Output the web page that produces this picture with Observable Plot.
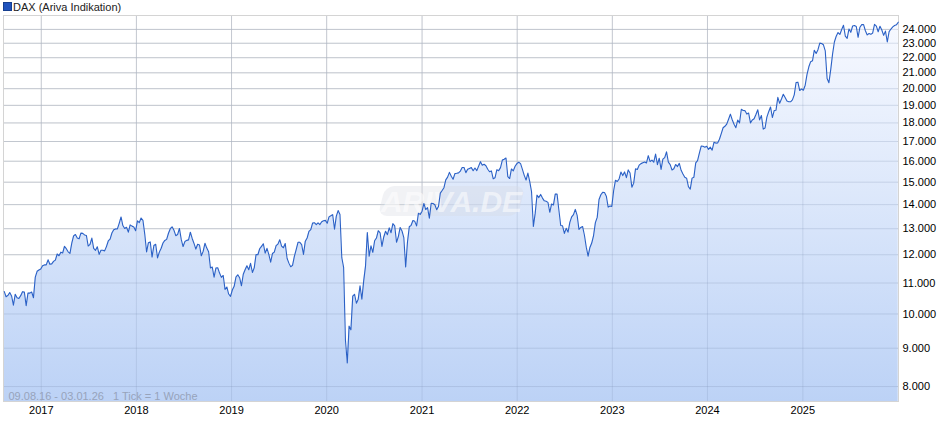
<!DOCTYPE html>
<html><head><meta charset="utf-8">
<script src="https://cdn.jsdelivr.net/npm/d3@7"></script>
<script src="https://cdn.jsdelivr.net/npm/@observablehq/plot@0.6"></script>
<style>
body{margin:0;background:#fff;font-family:"Liberation Sans",Arial,sans-serif;}
#title{height:14px;position:relative;font-size:11px;color:#222;line-height:14px;}
#title .sw{position:absolute;left:3px;top:2px;width:7px;height:7px;background:#1f52bd;border:1px solid #163f8f;}
#title .tx{position:absolute;left:13px;top:0px;}
#chart svg{display:block;overflow:visible;}
</style></head><body>
<div id="title"><span class="sw"></span><span class="tx">DAX (Ariva Indikation)</span></div>
<div id="chart"></div>
<script>
// Weekly closes (one tick = one week), first week ending 2016-08-12
const firstWeek = "2016-08-12";
const v2016 = [10713,10544,10588,10684,10573,10276,10627,10511,10490,10580,10711,10696,10259,10668,10664,10700,10513,11203,11404,11450,11481];
const v2017 = [11599,11630,11630,11814,11651,11666,11757,11804,12027,11963,12095,12064,12313,12225,12109,12049,12438,12717,12770,12638,12602,12823,12815,12753,12733,12325,12389,12631,12240,12163,12297,12014,12165,12168,12143,12304,12519,12592,12829,12956,12992,12991,13217,13479,13127,13007,13060,12862,13153,13104,13073,12918];
const v2018 = [13320,13245,13434,13340,12785,12107,12452,12483,11914,12346,12390,11886,12097,12241,12442,12540,12580,12820,13001,13077,12938,12724,12767,13011,12580,12306,12496,12541,12561,12860,12616,12424,12211,12394,12364,11960,12124,12431,12247,12111,11524,11554,11201,11519,11529,11342,11193,11257,10788,10866,10634,10559];
const v2019 = [10767,10887,11205,11282,11180,10907,11300,11458,11602,11458,11686,11364,11526,12010,12000,12222,12315,12412,12060,12239,12011,11727,12045,12096,12340,12399,12568,12323,12260,12419,11872,11694,11563,11612,11939,12191,12469,12468,12381,12013,12512,12634,12895,12961,13229,13242,13164,13236,13167,13283,13319,13337];
const v2020 = [13219,13483,13526,13577,12982,13514,13745,13579,11890,11542,9232,8600,9633,9525,10565,10626,10336,10467,10904,10465,11074,11587,12848,11949,12331,12089,12528,12633,12920,12839,12313,12674,12901,12765,13033,12842,13203,13116,12469,12689,13051,12909,12646,11556,12480,13077,13137,13335,13298,13114,13631,13587,13719];
const v2021 = [14050,13788,13873,13432,14057,14050,13993,13786,13920,14502,14621,14749,15107,15234,15460,15280,15136,15400,15417,15437,15520,15693,15693,15448,15608,15650,15688,15540,15669,15544,15761,15977,15808,15852,15781,15609,15490,15531,15156,15207,15587,15543,15689,16054,16094,16160,15257,15170,15623,15532,15756,15885];
const v2022 = [15948,15883,15603,15319,15100,15425,15042,14567,13094,13628,14413,14306,14446,14284,14164,14142,14098,13675,14028,13982,14462,14461,13762,13127,13118,12813,13016,12864,13254,13484,13573,13795,13544,12971,13050,13088,12741,12284,11950,12273,12438,12731,13243,13460,14224,14431,14541,14529,14370,13893,13941,13924];
const v2023 = [14610,15087,15033,15150,15476,15308,15482,15210,15578,15428,14768,14957,15629,15598,15808,15882,15922,15961,15914,16275,15983,16051,15950,16358,15830,16148,15603,16105,16177,16469,15952,15832,15574,15632,15840,15740,15894,15557,15387,15229,15187,14798,14687,15189,15234,15919,16029,16398,16759,16751,16706,16752];
const v2024 = [16594,16705,16555,16961,16918,16927,17117,17419,17735,17815,17937,18206,18492,18175,17930,17737,18161,18001,18773,18704,18693,18498,18557,18002,18164,18235,18475,18748,18172,18418,17661,17723,18322,18633,18907,18302,18699,18720,19474,19121,19374,19657,19464,19255,19215,19211,19323,19626,20385,20405,19885,19984];
const v2025 = [19906,20215,20903,21394,21732,21787,22513,22287,22551,23009,22987,22892,22461,20642,20374,21206,22242,23087,23499,23767,23630,23997,24304,23516,23350,24033,23787,24255,24290,24218,23426,24163,24359,24363,23902,23597,23698,23639,23739,24379,24241,23830,24239,23958,23569,23876,23091,23836,24028,24186,24288,24340,24539];

const periodStart = "2016-08-09";
const periodEnd = "2026-01-03";
const yDomain = [7640, 25050];
const yTicks = [8000,9000,10000,11000,12000,13000,14000,15000,16000,17000,18000,19000,20000,21000,22000,23000,24000];
const xTickYears = [2017,2018,2019,2020,2021,2022,2023,2024,2025];
const footnote = "09.08.16 - 03.01.26   1 Tick = 1 Woche";
const watermark = "ARIVA.DE";

const parse = d3.utcParse("%Y-%m-%d");
const values = [].concat(v2016, v2017, v2018, v2019, v2020, v2021, v2022, v2023, v2024, v2025);
const start = parse(firstWeek);
const data = values.map((v, i) => ({date: d3.utcDay.offset(start, 7 * i), v}));
const xTicks = xTickYears.map(y => new Date(Date.UTC(y, 0, 1)));
const de = d3.formatLocale({decimal: ",", thousands: ".", grouping: [3], currency: ["", " €"]});
const fmt = de.format(",d");

const defs = () => {
  const d = d3.create("svg:defs");
  const g = d.append("linearGradient").attr("id", "daxFill")
    .attr("gradientUnits", "objectBoundingBox").attr("x1", 0).attr("y1", 0).attr("x2", 0).attr("y2", 1);
  g.append("stop").attr("offset", "0%").attr("stop-color", "#f7f9ff");
  g.append("stop").attr("offset", "45%").attr("stop-color", "#dde8fb");
  g.append("stop").attr("offset", "100%").attr("stop-color", "#bcd2f6");
  return d.node();
};

const wm = (index, scales, values, dims) => {
  const cx = (dims.marginLeft + dims.width - dims.marginRight) / 2 + 1;
  const cy = (dims.marginTop + dims.height - dims.marginBottom) / 2 - 7;
  const g = d3.create("svg:g").attr("transform", `translate(${cx},${cy})`);
  g.append("rect").attr("x", -70).attr("y", -15).attr("width", 140).attr("height", 30)
    .attr("rx", 9).attr("transform", "skewX(-14)")
    .attr("fill", "#d8dbe2").attr("fill-opacity", 0.35);
  g.append("text").text(watermark).attr("text-anchor", "middle").attr("dy", "0.36em")
    .attr("font-family", "Liberation Sans, Arial, sans-serif").attr("font-size", 30)
    .attr("font-weight", "bold").attr("font-style", "italic")
    .attr("fill", "#ffffff").attr("fill-opacity", 0.55);
  return g.node();
};

const chart = Plot.plot({
  width: 940,
  height: 421,
  marginTop: 1,
  marginBottom: 34,
  marginLeft: 3,
  marginRight: 42,
  style: {fontFamily: "Liberation Sans, Arial, sans-serif", fontSize: "11px", color: "#000", background: "transparent"},
  x: {type: "utc", domain: [parse(periodStart), parse(periodEnd)], ticks: xTicks, tickFormat: d3.utcFormat("%Y"), tickSize: 0, tickPadding: 5, label: null},
  y: {type: "log", domain: yDomain, ticks: yTicks, tickFormat: fmt, tickSize: 0, tickPadding: 4, label: null, axis: "right"},
  marks: [
    defs,
    Plot.ruleY(yTicks, {stroke: "#dadada"}),
    Plot.ruleX(xTicks, {stroke: "#dadada"}),
    Plot.areaY(data, {x: "date", y1: yDomain[0], y2: "v", fill: "url(#daxFill)"}),
    Plot.ruleY(yTicks, {stroke: "#7d8fb0", strokeOpacity: 0.25}),
    Plot.ruleX(xTicks, {stroke: "#7d8fb0", strokeOpacity: 0.22}),
    wm,
    Plot.frame({stroke: "#d4d4d4"}),
    Plot.lineY(data, {x: "date", y: "v", stroke: "#2b61c6", strokeWidth: 1.1}),
    Plot.text([footnote], {frameAnchor: "bottom-left", dx: 5, dy: -2, fill: "#97a3bb", fontSize: 11, textAnchor: "start"})
  ]
});
document.getElementById("chart").appendChild(chart);
</script>
</body></html>
